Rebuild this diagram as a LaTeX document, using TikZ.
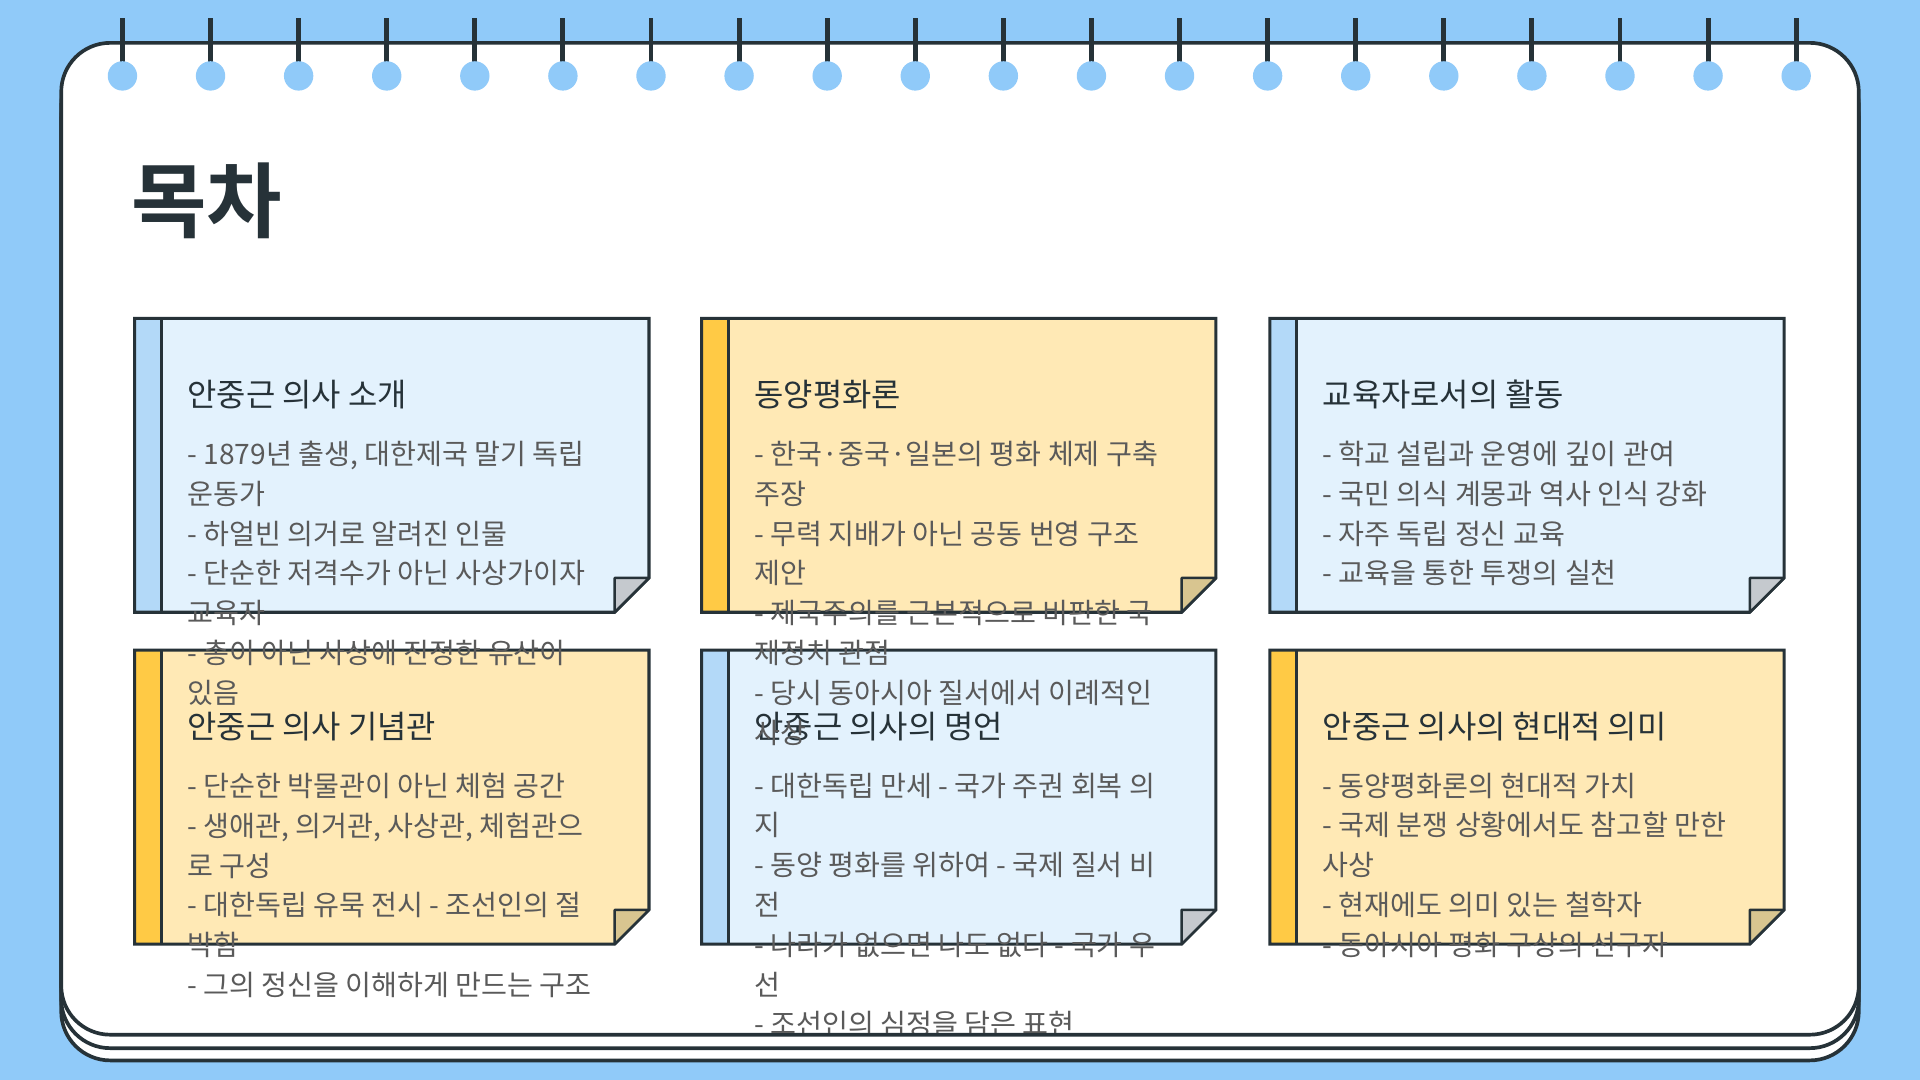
\documentclass[tikz,border=0pt]{standalone}
\usepackage{fontspec}
\setmainfont{Noto Sans CJK KR}
\newfontfamily\titlefont{Noto Sans CJK KR Bold}
\definecolor{bgblue}{HTML}{90CAF9}
\definecolor{ink}{HTML}{263238}
\definecolor{cardblue}{HTML}{E3F2FD}
\definecolor{stripeblue}{HTML}{B3D9F8}
\definecolor{cardyel}{HTML}{FFE9B5}
\definecolor{stripeyel}{HTML}{FFCA45}
\definecolor{foldblue}{HTML}{C5C9CE}
\definecolor{foldyel}{HTML}{D8C590}
\definecolor{txt}{HTML}{5A5A5A}
\tikzset{
 page/.style={draw=ink,line width=3pt,fill=white,rounded corners=40pt},
 cardtitle/.style={anchor=base west,font=\fontsize{26}{30}\selectfont,text=ink,inner sep=0pt},
 cardbody/.style={anchor=north west,align=left,font=\fontsize{23}{32.5}\selectfont,text=txt,inner sep=0pt},
}
\begin{document}
\begin{tikzpicture}[x=1pt,y=-1pt]
\fill[bgblue] (0,0) rectangle (1568,882);
\useasboundingbox (0,0) rectangle (1568,882);
\draw[page] (50,57) rectangle (1518,866);
\draw[page] (50,46) rectangle (1518,856);
\draw[page] (50,35) rectangle (1518,845);
\foreach \i in {0,...,19}{
  \pgfmathsetmacro{\xx}{100+\i*71.94}
  \draw[ink,line width=4pt] (\xx,15) -- (\xx,52);
  \fill[bgblue] (\xx,62) circle (12);
}
\node[anchor=base west,inner sep=0pt,text=ink,font=\titlefont\fontsize{67}{67}\selectfont] (title) at (107,189) {목차};
% cards
\newcommand\mycard[6]{% x y fill stripe fold name
  \fill[#3] (#1,#2) -- ++(420,0) -- ++(0,212) -- ++(-28,28) -- ++(-392,0) -- cycle;
  \fill[#4] (#1,#2) rectangle ++(22,240);
  \draw[ink,line width=2.5pt] (#1,#2) -- ++(420,0) -- ++(0,212) -- ++(-28,28) -- ++(-392,0) -- cycle;
  \draw[ink,line width=2.5pt] (#1+22,#2) -- ++(0,240);
  \draw[ink,line width=2pt,fill=#5,line join=round] (#1+420,#2+212) -- ++(-28,0) -- ++(0,28) -- cycle;
  \coordinate (#6) at (#1+43,#2+72);
}
\mycard{110}{260}{cardblue}{stripeblue}{foldblue}{c1}
\mycard{573}{260}{cardyel}{stripeyel}{foldyel}{c2}
\mycard{1037}{260}{cardblue}{stripeblue}{foldblue}{c3}
\mycard{110}{531}{cardyel}{stripeyel}{foldyel}{c4}
\mycard{573}{531}{cardblue}{stripeblue}{foldblue}{c5}
\mycard{1037}{531}{cardyel}{stripeyel}{foldyel}{c6}
\foreach \c/\t in {c1/안중근 의사 소개,c2/동양평화론,c3/교육자로서의 활동,c4/안중근 의사 기념관,c5/안중근 의사의 명언,c6/안중근 의사의 현대적 의미}{
  \node[cardtitle] (\c t) at (\c) {\t};
}
\node[cardbody] (b1) at ([yshift=-28]c1) {- 1879년 출생, 대한제국 말기 독립\\운동가\\- 하얼빈 의거로 알려진 인물\\- 단순한 저격수가 아닌 사상가이자\\교육자\\- 총이 아닌 사상에 진정한 유산이\\있음};
\node[cardbody] (b2) at ([yshift=-28]c2) {- 한국·중국·일본의 평화 체제 구축\\주장\\- 무력 지배가 아닌 공동 번영 구조\\제안\\- 제국주의를 근본적으로 비판한 국\\제정치 관점\\- 당시 동아시아 질서에서 이례적인\\사상};
\node[cardbody] (b3) at ([yshift=-28]c3) {- 학교 설립과 운영에 깊이 관여\\- 국민 의식 계몽과 역사 인식 강화\\- 자주 독립 정신 교육\\- 교육을 통한 투쟁의 실천};
\node[cardbody] (b4) at ([yshift=-28]c4) {- 단순한 박물관이 아닌 체험 공간\\- 생애관, 의거관, 사상관, 체험관으\\로 구성\\- 대한독립 유묵 전시 - 조선인의 절\\박함\\- 그의 정신을 이해하게 만드는 구조};
\begin{scope}
\clip (0,0) rectangle (1568,843);
\node[cardbody] (b5) at ([yshift=-28]c5) {- 대한독립 만세 - 국가 주권 회복 의\\지\\- 동양 평화를 위하여 - 국제 질서 비\\전\\- 나라가 없으면 나도 없다 - 국가 우\\선\\- 조선인의 심정을 담은 표현};
\end{scope}
\node[cardbody] (b6) at ([yshift=-28]c6) {- 동양평화론의 현대적 가치\\- 국제 분쟁 상황에서도 참고할 만한\\사상\\- 현재에도 의미 있는 철학자\\- 동아시아 평화 구상의 선구자};
\end{tikzpicture}
\end{document}
